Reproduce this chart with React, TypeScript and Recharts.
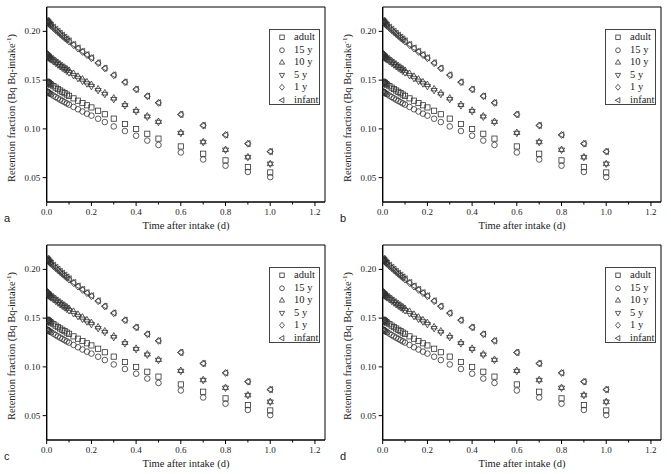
import React from 'react';
import { ScatterChart, Scatter, XAxis, YAxis, Legend, Label, ReferenceLine } from 'recharts';

const times = [0, 0.0025, 0.005, 0.0075, 0.01, 0.015, 0.02, 0.03, 0.04, 0.05, 0.06, 0.07, 0.08, 0.09, 0.10, 0.12, 0.14, 0.16, 0.18, 0.20, 0.23, 0.26, 0.30, 0.35, 0.40, 0.45, 0.50, 0.60, 0.70, 0.80, 0.90, 1.00];

const adult = [0.1485, 0.1481, 0.1477, 0.1473, 0.1469, 0.1461, 0.1453, 0.1438, 0.1423, 0.1408, 0.1394, 0.1380, 0.1366, 0.1352, 0.1339, 0.1313, 0.1289, 0.1265, 0.1242, 0.1220, 0.1186, 0.1150, 0.1105, 0.1050, 0.0999, 0.0950, 0.0900, 0.0820, 0.0745, 0.0677, 0.0608, 0.0553];
const fifteenY = [0.1385, 0.1381, 0.1377, 0.1373, 0.1369, 0.1362, 0.1355, 0.1341, 0.1327, 0.1313, 0.1300, 0.1287, 0.1274, 0.1261, 0.1249, 0.1225, 0.1201, 0.1178, 0.1156, 0.1136, 0.1104, 0.1070, 0.1025, 0.0978, 0.0930, 0.0880, 0.0835, 0.0758, 0.0686, 0.0622, 0.0558, 0.0505];
const tenY = [0.1775, 0.1770, 0.1765, 0.1760, 0.1755, 0.1746, 0.1737, 0.1719, 0.1701, 0.1684, 0.1667, 0.1650, 0.1634, 0.1618, 0.1602, 0.1571, 0.1541, 0.1512, 0.1484, 0.1456, 0.1412, 0.1370, 0.1318, 0.1252, 0.1192, 0.1134, 0.1078, 0.0965, 0.0870, 0.0790, 0.0714, 0.0645];
const fiveY = [0.1745, 0.1740, 0.1735, 0.1730, 0.1725, 0.1716, 0.1707, 0.1689, 0.1672, 0.1655, 0.1638, 0.1622, 0.1606, 0.1590, 0.1575, 0.1545, 0.1516, 0.1488, 0.1461, 0.1434, 0.1392, 0.1352, 0.1300, 0.1236, 0.1177, 0.1120, 0.1066, 0.0953, 0.0860, 0.0781, 0.0706, 0.0638];
const oneY = [0.2102, 0.2096, 0.2090, 0.2084, 0.2078, 0.2067, 0.2056, 0.2034, 0.2013, 0.1993, 0.1973, 0.1953, 0.1934, 0.1915, 0.1896, 0.1860, 0.1824, 0.1790, 0.1757, 0.1725, 0.1674, 0.1620, 0.1550, 0.1478, 0.1405, 0.1335, 0.1267, 0.1148, 0.1035, 0.0938, 0.0848, 0.0767];
const infant = [0.2112, 0.2105, 0.2099, 0.2093, 0.2087, 0.2075, 0.2064, 0.2042, 0.2021, 0.2000, 0.1980, 0.1960, 0.1941, 0.1922, 0.1903, 0.1866, 0.1830, 0.1795, 0.1761, 0.1729, 0.1678, 0.1623, 0.1553, 0.1480, 0.1406, 0.1336, 0.1268, 0.1148, 0.1035, 0.0938, 0.0848, 0.0767];

const seriesNames = ['adult', '15 y', '10 y', '5 y', '1 y', 'infant'];
const seriesValues = [adult, fifteenY, tenY, fiveY, oneY, infant];
const seriesShapes = ['square', 'circle', 'up', 'down', 'diamond', 'left'];

const xTicks = [0, 0.1, 0.2, 0.3, 0.4, 0.5, 0.6, 0.7, 0.8, 0.9, 1.0, 1.1, 1.2];
const yTicks = [0.05, 0.1, 0.15, 0.2];
const panelLetters = ['a', 'b', 'c', 'd'];

const SERIF = "'Liberation Serif', 'Times New Roman', serif";
const SANS = "'Liberation Sans', Arial, sans-serif";
const STROKE = '#333';
const serifStyle = { fontFamily: SERIF };

function marker(kind: string, cx: number, cy: number, s = 1) {
  const common = { fill: 'none', stroke: STROKE, strokeWidth: 0.8 };
  switch (kind) {
    case 'square':
      return <rect x={cx - 2.6 * s} y={cy - 2.6 * s} width={5.2 * s} height={5.2 * s} {...common} />;
    case 'circle':
      return <circle cx={cx} cy={cy} r={2.8 * s} {...common} />;
    case 'up':
      return <polygon points={`${cx},${cy - 3.3 * s} ${cx + 3.1 * s},${cy + 2.2 * s} ${cx - 3.1 * s},${cy + 2.2 * s}`} {...common} />;
    case 'down':
      return <polygon points={`${cx},${cy + 3.3 * s} ${cx + 3.1 * s},${cy - 2.2 * s} ${cx - 3.1 * s},${cy - 2.2 * s}`} {...common} />;
    case 'diamond':
      return <polygon points={`${cx},${cy - 3.5 * s} ${cx + 2.9 * s},${cy} ${cx},${cy + 3.5 * s} ${cx - 2.9 * s},${cy}`} {...common} />;
    default:
      return <polygon points={`${cx - 3.3 * s},${cy} ${cx + 2.2 * s},${cy - 3.1 * s} ${cx + 2.2 * s},${cy + 3.1 * s}`} {...common} />;
  }
}

const seriesData = seriesValues.map((vals) => times.map((t, i) => ({ x: t, y: vals[i] })));

const XTick = (props: any) => {
  const { x, y, payload } = props;
  const v = payload.value as number;
  const major = Math.round(v * 10) % 2 === 0;
  const y0 = y - 4;
  return (
    <g>
      <line x1={x} x2={x} y1={y0} y2={y0 + (major ? 4 : 2.5)} stroke="#000" strokeWidth={1} />
      {major && (
        <text x={x} y={y0 + 13} textAnchor="middle" fontSize={9} style={serifStyle} fill="#222">
          {v.toFixed(1)}
        </text>
      )}
    </g>
  );
};

const YTick = (props: any) => {
  const { x, y, payload } = props;
  const v = payload.value as number;
  return (
    <g>
      <line x1={x} x2={x + 4} y1={y} y2={y} stroke="#000" strokeWidth={1} />
      <text x={x - 2.5} y={y + 3} textAnchor="end" fontSize={9} style={serifStyle} fill="#222">
        {v.toFixed(2)}
      </text>
    </g>
  );
};

const LegendBox = () => (
  <div
    style={{
      width: 51,
      height: 76,
      boxSizing: 'border-box',
      border: '1px solid #444',
      background: '#fff',
      paddingTop: 1,
      fontFamily: SERIF,
      fontSize: 10.5,
      color: '#222',
    }}
  >
    {seriesNames.map((n, i) => (
      <div key={n} style={{ display: 'flex', alignItems: 'center', height: 12.5 }}>
        <svg width={20} height={12.5} style={{ flex: 'none' }}>
          {marker(seriesShapes[i], 12, 6.25, 0.85)}
        </svg>
        <span style={{ marginLeft: 4, lineHeight: '12.5px', whiteSpace: 'nowrap' }}>{n}</span>
      </div>
    ))}
  </div>
);

const Panel = ({ letter, left, top }: { letter: string; left: number; top: number }) => (
  <div style={{ position: 'absolute', left, top, width: 335, height: 237 }}>
    <ScatterChart width={335} height={237} margin={{ top: 7, right: 10, bottom: 0, left: 0 }}>
      <XAxis
        type="number"
        dataKey="x"
        domain={[0, 1.245]}
        ticks={xTicks}
        interval={0}
        allowDataOverflow
        height={35}
        tickSize={4}
        tickMargin={0}
        tickLine={false}
        tick={XTick}
        axisLine={{ stroke: '#000', strokeWidth: 1.4 }}
      >
        <Label
          content={() => (
            <g>
              <text x={186} y={229} textAnchor="middle" fontSize={10.5} style={serifStyle} fill="#222">
                Time after intake (d)
              </text>
              <text x={4} y={222} fontSize={11} style={{ fontFamily: SANS }} fill="#222">
                {letter}
              </text>
            </g>
          )}
        />
      </XAxis>
      <YAxis
        type="number"
        dataKey="y"
        domain={[0.025, 0.225]}
        ticks={yTicks}
        interval={0}
        allowDataOverflow
        width={46.7}
        tickSize={4}
        tickMargin={0}
        tickLine={false}
        tick={YTick}
        axisLine={{ stroke: '#000', strokeWidth: 1.4 }}
      >
        <Label
          content={() => (
            <text
              x={15}
              y={108}
              transform="rotate(-90 15 108)"
              textAnchor="middle"
              fontSize={10.5}
              style={serifStyle}
              fill="#222"
            >
              Retention fraction (Bq Bq-intake
              <tspan dy={-4} fontSize={7}>-1</tspan>
              <tspan dy={4}>)</tspan>
            </text>
          )}
        />
      </YAxis>
      <ReferenceLine y={0.225} stroke="#000" strokeWidth={1} ifOverflow="visible" />
      <ReferenceLine x={1.245} stroke="#000" strokeWidth={1} ifOverflow="visible" />
      {seriesData.map((d, i) => (
        <Scatter
          key={seriesNames[i]}
          name={seriesNames[i]}
          data={d}
          isAnimationActive={false}
          shape={(p: any) => marker(seriesShapes[i], p.cx, p.cy)}
        />
      ))}
      <Legend
        layout="horizontal"
        verticalAlign="middle"
        align="center"
        wrapperStyle={{ left: 269, top: 29, width: 51, height: 76 }}
        content={LegendBox}
      />
    </ScatterChart>
  </div>
);

export default function App() {
  const offsets = [
    [0, 0],
    [336, 0],
    [0, 238],
    [336, 238],
  ];
  return (
    <div style={{ position: 'absolute', left: 0, top: 0, width: 671, height: 474, background: '#fff', overflow: 'hidden' }}>
      {panelLetters.map((l, i) => (
        <Panel key={l} letter={l} left={offsets[i][0]} top={offsets[i][1]} />
      ))}
    </div>
  );
}
